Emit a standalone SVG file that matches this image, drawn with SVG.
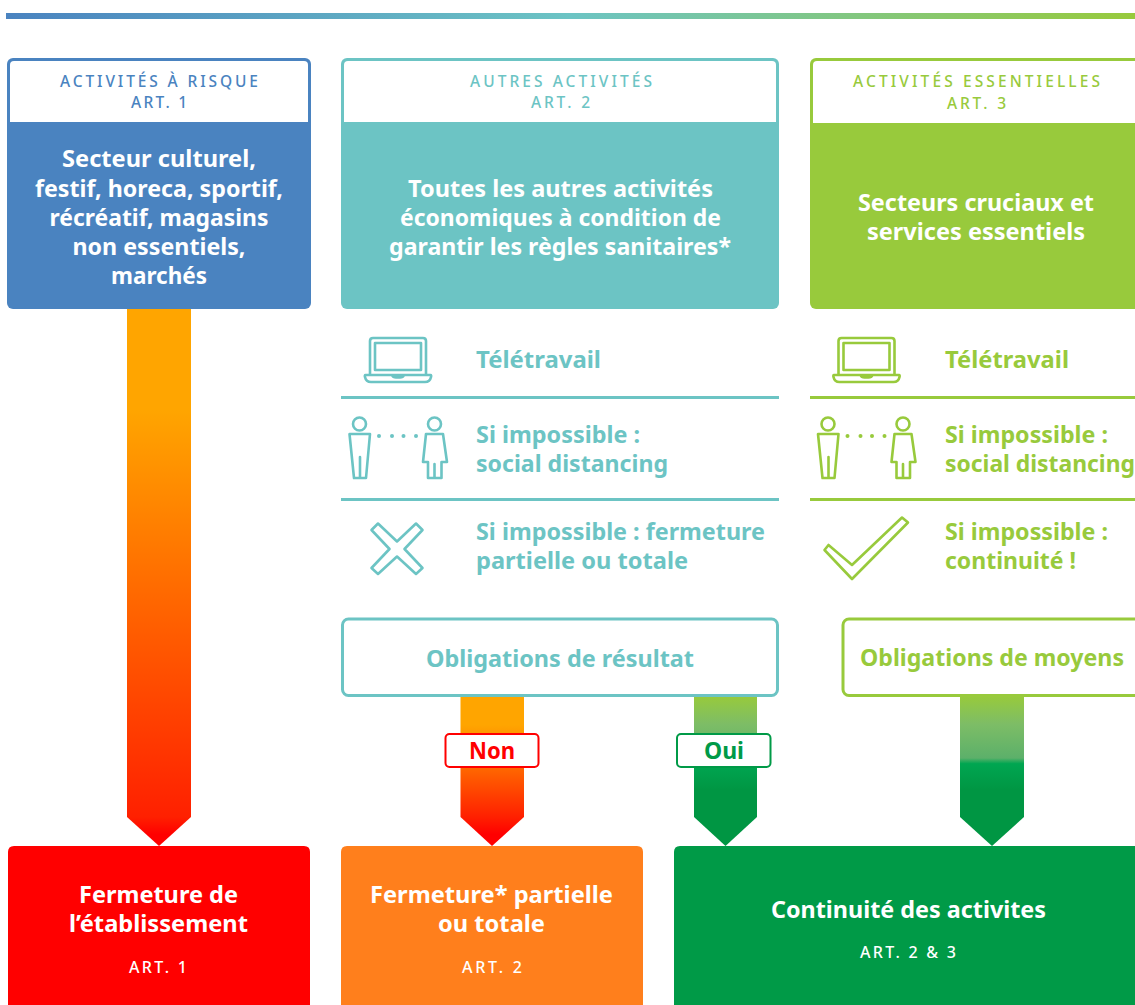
<svg xmlns="http://www.w3.org/2000/svg" width="1135" height="1005" viewBox="0 0 1135 1005">
<style>
text{font-family:"Noto Sans","Open Sans",sans-serif;font-weight:700;font-size:23px}
.h{font-family:"Noto Sans","Open Sans",sans-serif;font-weight:500;font-size:15.5px}
.n{font-family:"Noto Sans","Open Sans",sans-serif;font-weight:500;font-size:16px}
.w{fill:#fff}
.b{fill:#4a83c0}.t{fill:#6cc4c4}.g{fill:#98ca3c}
.ic{fill:none;stroke-width:2.6;stroke-linejoin:round;stroke-linecap:round}
.it{stroke:#6cc4c4}.ig{stroke:#98ca3c}
</style>
<defs>
<linearGradient id="bar" x1="0" x2="1" y1="0" y2="0"><stop offset="0" stop-color="#4a83c0"/><stop offset=".5" stop-color="#6cc4c4"/><stop offset="1" stop-color="#98ca3c"/></linearGradient>
<linearGradient id="a1" gradientUnits="userSpaceOnUse" x1="0" x2="0" y1="410" y2="817"><stop offset="0" stop-color="#ffa500"/><stop offset="1" stop-color="#ff2000"/></linearGradient>
<linearGradient id="a2" gradientUnits="userSpaceOnUse" x1="0" x2="0" y1="725" y2="817"><stop offset="0" stop-color="#ffa500"/><stop offset="1" stop-color="#ff2000"/></linearGradient>
<linearGradient id="a3" gradientUnits="userSpaceOnUse" x1="0" x2="0" y1="696" y2="790"><stop offset="0" stop-color="#98ca3c"/><stop offset=".3" stop-color="#7dbd66"/><stop offset=".66" stop-color="#5cb06a"/><stop offset=".72" stop-color="#00a651"/><stop offset="1" stop-color="#009643"/></linearGradient>
<linearGradient id="hr" x1="0" x2="0" y1="0" y2="1"><stop offset="0" stop-color="#ff2000"/><stop offset=".6" stop-color="#f00"/></linearGradient>
<g id="laptop"><path d="M370 375V341q0-3 3-3h50q3 0 3 3v34M375 370V343h46v27zM365.500 375h65q1 0 0.500 2q-1 5-6 5h-54q-5 0-6-5q-.5-2 .5-2zM392 375q1 2.500 4 2.500h4q3 0 4-2.500"/></g>
<g id="people"><circle cx="359.500" cy="424" r="6.500"/><path d="M349.500 434H370L366 478H354zM360 457V478"/><circle cx="434.500" cy="424" r="6.500"/><path d="M426 434H443L447 462H441.500V478H428V462H423zM434.500 464V478"/></g>
</defs>
<rect id="top-bar" x="6" y="13" width="1129" height="6" fill="url(#bar)"/>
<g id="connectors">
<path d="M127 309H191V817H127z" fill="url(#a1)"/>
<path d="M127 817H191L159 846z" fill="url(#hr)"/>
<path d="M460.500 696H524V817H460.500z" fill="url(#a2)"/>
<path d="M460.500 817H524L492 846z" fill="url(#hr)"/>
<path d="M694 696H757V817H694z" fill="url(#a3)"/>
<path d="M694 817H757L725.500 846z" fill="#009643"/>
<path d="M960 696H1024V817H960z" fill="url(#a3)"/>
<path d="M960 817H1024L992 846z" fill="#009643"/>
</g>
<g id="node-risque">
<rect class="b" x="7" y="58" width="304" height="251" rx="6"/>
<path class="w" d="M10 122V65q0-4 4-4H304q4 0 4 4V122z"/>
<text class="h b" x="159" y="87" text-anchor="middle" textLength="198" lengthAdjust="spacing">ACTIVITÉS À RISQUE</text>
<text class="h b" x="159" y="108" text-anchor="middle" textLength="56" lengthAdjust="spacing">ART. 1</text>
<g class="w" text-anchor="middle">
<text x="159" y="167" textLength="194" lengthAdjust="spacingAndGlyphs">Secteur culturel,</text>
<text x="159" y="197" textLength="248" lengthAdjust="spacingAndGlyphs">festif, horeca, sportif,</text>
<text x="159" y="226" textLength="219" lengthAdjust="spacingAndGlyphs">récréatif, magasins</text>
<text x="159" y="255" textLength="173" lengthAdjust="spacingAndGlyphs">non essentiels,</text>
<text x="159" y="284" textLength="96" lengthAdjust="spacingAndGlyphs">marchés</text>
</g>
</g>
<g id="node-autres">
<rect class="t" x="341" y="58" width="438" height="251" rx="6"/>
<path class="w" d="M344 122V65q0-4 4-4H772q4 0 4 4V122z"/>
<text class="h t" x="561" y="87" text-anchor="middle" textLength="182" lengthAdjust="spacing">AUTRES ACTIVITÉS</text>
<text class="h t" x="560.500" y="108" text-anchor="middle" textLength="59" lengthAdjust="spacing">ART. 2</text>
<g class="w" text-anchor="middle">
<text x="560.500" y="197" textLength="305" lengthAdjust="spacingAndGlyphs">Toutes les autres activités</text>
<text x="560.500" y="226" textLength="321" lengthAdjust="spacingAndGlyphs">économiques à condition de</text>
<text x="560" y="255" textLength="342" lengthAdjust="spacingAndGlyphs">garantir les règles sanitaires*</text>
</g>
</g>
<g id="node-essentielles">
<rect class="g" x="810" y="58" width="340" height="251" rx="6"/>
<path class="w" d="M813 123V65q0-4 4-4H1150V123z"/>
<text class="h g" x="976.500" y="87" text-anchor="middle" textLength="247" lengthAdjust="spacing">ACTIVITÉS ESSENTIELLES</text>
<text class="h g" x="976.500" y="109" text-anchor="middle" textLength="59" lengthAdjust="spacing">ART. 3</text>
<g class="w" text-anchor="middle">
<text x="976" y="211" textLength="236" lengthAdjust="spacingAndGlyphs">Secteurs cruciaux et</text>
<text x="976" y="240" textLength="218" lengthAdjust="spacingAndGlyphs">services essentiels</text>
</g>
</g>
<g id="steps-autres">
<use href="#laptop" class="ic it"/>
<text class="t" x="476" y="368" textLength="125" lengthAdjust="spacingAndGlyphs">Télétravail</text>
<rect class="t" x="341" y="396" width="438" height="3"/>
<use href="#people" class="ic it"/>
<g class="t"><circle cx="379" cy="436" r="2"/><circle cx="392" cy="436" r="2"/><circle cx="403.500" cy="436" r="2"/><circle cx="416" cy="436" r="2"/></g>
<text class="t" x="476" y="443" textLength="164" lengthAdjust="spacingAndGlyphs">Si impossible :</text>
<text class="t" x="476" y="472" textLength="192" lengthAdjust="spacingAndGlyphs">social distancing</text>
<rect class="t" x="341" y="498" width="438" height="3"/>
<path class="ic it" d="M397 541.500L416 523.500L422.500 530L404.500 549L422.500 568L416 574L397 556.500L378 574L371.500 568L389.500 549L371.500 530L378 523.500z"/>
<text class="t" x="476" y="539.500" textLength="289" lengthAdjust="spacingAndGlyphs">Si impossible : fermeture</text>
<text class="t" x="476" y="569" textLength="212" lengthAdjust="spacingAndGlyphs">partielle ou totale</text>
</g>
<g id="steps-essentielles">
<use href="#laptop" x="468.500" class="ic ig"/>
<text class="g" x="945" y="368" textLength="124" lengthAdjust="spacingAndGlyphs">Télétravail</text>
<rect class="g" x="810" y="396" width="325" height="3"/>
<use href="#people" x="468.500" class="ic ig"/>
<g class="g"><circle cx="847.500" cy="436" r="2"/><circle cx="860.500" cy="436" r="2"/><circle cx="872" cy="436" r="2"/><circle cx="884.500" cy="436" r="2"/></g>
<text class="g" x="945" y="443" textLength="163" lengthAdjust="spacingAndGlyphs">Si impossible :</text>
<text class="g" x="945" y="472" textLength="190" lengthAdjust="spacingAndGlyphs">social distancing</text>
<rect class="g" x="810" y="498" width="325" height="3"/>
<path class="ic ig" d="M824.500 550L828.500 545L852 565L902 517.500L908 522.500L852 579z"/>
<text class="g" x="945" y="539.500" textLength="163" lengthAdjust="spacingAndGlyphs">Si impossible :</text>
<text class="g" x="945" y="569" textLength="131" lengthAdjust="spacingAndGlyphs">continuité !</text>
</g>
<g id="node-resultat">
<rect x="342.500" y="619" width="435" height="76.500" rx="6" fill="#fff" stroke="#6cc4c4" stroke-width="3"/>
<text class="t" x="560" y="667" text-anchor="middle" textLength="268" lengthAdjust="spacingAndGlyphs">Obligations de résultat</text>
</g>
<g id="node-moyens">
<rect x="843" y="619" width="310" height="76.500" rx="6" fill="#fff" stroke="#98ca3c" stroke-width="3"/>
<text class="g" x="992" y="666" text-anchor="middle" textLength="264" lengthAdjust="spacingAndGlyphs">Obligations de moyens</text>
</g>
<g id="label-non">
<rect x="445.500" y="734" width="93" height="33" rx="4" fill="#fff" stroke="#f00" stroke-width="2"/>
<text x="492" y="759" text-anchor="middle" fill="#f00" textLength="46" lengthAdjust="spacingAndGlyphs">Non</text>
</g>
<g id="label-oui">
<rect x="677" y="734" width="93.500" height="33" rx="4" fill="#fff" stroke="#009a47" stroke-width="2"/>
<text x="724" y="759" text-anchor="middle" fill="#009a47" textLength="40" lengthAdjust="spacingAndGlyphs">Oui</text>
</g>
<g id="node-fermeture">
<path d="M8 1010V852q0-6 6-6H304q6 0 6 6V1010z" fill="#f00"/>
<g class="w" text-anchor="middle">
<text x="158.500" y="903" textLength="159" lengthAdjust="spacingAndGlyphs">Fermeture de</text>
<text x="158.500" y="932" textLength="179" lengthAdjust="spacingAndGlyphs">l’établissement</text>
<text class="n" x="158" y="973" textLength="58" lengthAdjust="spacing">ART. 1</text>
</g>
</g>
<g id="node-partielle">
<path d="M341 1010V852q0-6 6-6H637q6 0 6 6V1010z" fill="#ff7f1c"/>
<g class="w" text-anchor="middle">
<text x="491.500" y="903" textLength="243" lengthAdjust="spacingAndGlyphs">Fermeture* partielle</text>
<text x="491.500" y="932" textLength="107" lengthAdjust="spacingAndGlyphs">ou totale</text>
<text class="n" x="492" y="973" textLength="60" lengthAdjust="spacing">ART. 2</text>
</g>
</g>
<g id="node-continuite">
<path d="M674 1010V852q0-6 6-6H1145V1010z" fill="#009a47"/>
<g class="w" text-anchor="middle">
<text x="908.500" y="918" textLength="275" lengthAdjust="spacingAndGlyphs">Continuité des activites</text>
<text class="n" x="908" y="958" textLength="96" lengthAdjust="spacing">ART. 2 &amp; 3</text>
</g>
</g>
</svg>
